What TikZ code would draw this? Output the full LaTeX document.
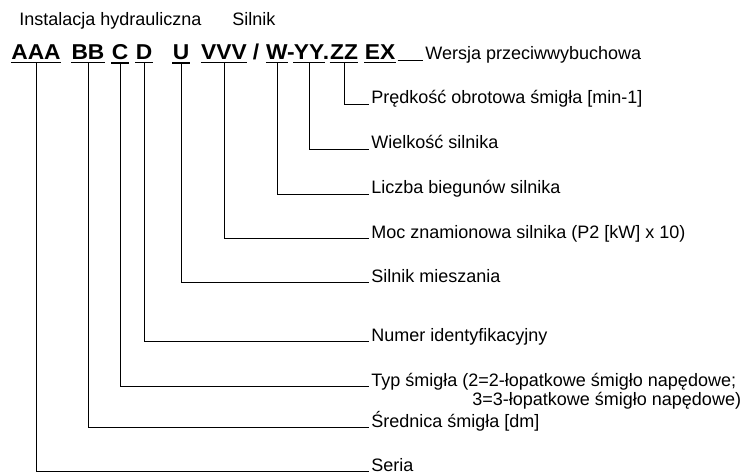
\documentclass[tikz,border=0pt]{standalone}
\usepackage{fontspec}
\setmainfont{Liberation Sans}
\newfontfamily\codefont{Liberation Sans}[FakeStretch=1.06]

\begin{document}
\begin{tikzpicture}[x=1pt,y=-1pt,line width=0.8pt,
  code/.style={font=\codefont\fontsize{21.5}{25}\selectfont\bfseries,inner xsep=0pt,inner ysep=2.2pt,anchor=base},
  lbl/.style={font=\fontsize{18}{21}\selectfont,inner sep=2pt,anchor=base west}]
\useasboundingbox (0,0) rectangle (744,473);

\node[lbl] (inst) at (17,26)  {Instalacja hydrauliczna};
\node[lbl] (siln) at (230,26) {Silnik};

\node[code] (aaa)   at (36,60)  {AAA};
\node[code] (bb)    at (88,60)  {BB};
\node[code] (c)     at (120,60) {C};
\node[code] (d)     at (144,60) {D};
\node[code] (u)     at (181,60) {U};
\node[code] (vvv)   at (224,60) {VVV};
\node[code] (slash) at (256,60) {/};
\node[code] (w)     at (277,60) {W};
\node[code] (dash)  at (291,60) {-};
\node[code] (yy)    at (309,60) {YY};
\node[code] (dot)   at (326,60) {.};
\node[code] (zz)    at (344,60) {ZZ};
\node[code] (ex)    at (380,60) {EX};

\foreach \p in {aaa,bb,c,d,u,vvv,w,yy,zz,ex}
  \draw[line width=1.8pt] (\p.south west) -- (\p.south east);

\node[lbl] (wersja) at (423,60)  {Wersja przeciwwybuchowa};
\node[lbl] (predk)  at (369,104) {Prędkość obrotowa śmigła [min-1]};
\node[lbl] (wielk)  at (369,149) {Wielkość silnika};
\node[lbl] (liczba) at (369,194) {Liczba biegunów silnika};
\node[lbl] (moc)    at (369,238) {Moc znamionowa silnika (P2 [kW] x 10)};
\node[lbl] (miesz)  at (369,282) {Silnik mieszania};
\node[lbl] (numer)  at (369,341) {Numer identyfikacyjny};
\node[lbl] (typ)    at (369,386) {Typ śmigła (2=2-łopatkowe śmigło napędowe;};
\node[lbl] (typb)   at (470,405) {3=3-łopatkowe śmigło napędowe)};
\node[lbl] (sred)   at (369,427) {Średnica śmigła [dm]};
\node[lbl] (seria)  at (369,471) {Seria};

\draw[shorten <=2pt] (ex.base east) -- (wersja.base west);
\draw (zz.south)  |- (predk.base west);
\draw (yy.south)  |- (wielk.base west);
\draw (w.south)   |- (liczba.base west);
\draw (vvv.south) |- (moc.base west);
\draw (u.south)   |- (miesz.base west);
\draw (d.south)   |- (numer.base west);
\draw (c.south)   |- (typ.base west);
\draw (bb.south)  |- (sred.base west);
\draw (aaa.south) |- (seria.base west);

\end{tikzpicture}
\end{document}
